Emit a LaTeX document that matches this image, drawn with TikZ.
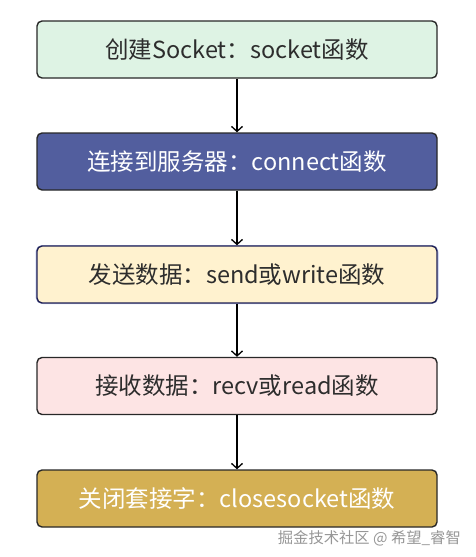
\documentclass[tikz,border=0pt]{standalone}
\usepackage{fontspec}
\setmainfont{Noto Sans CJK SC}
\usetikzlibrary{arrows.meta}
\definecolor{gfill}{RGB}{222,243,228}
\definecolor{bfill}{RGB}{82,94,158}
\definecolor{yfill}{RGB}{255,242,207}
\definecolor{pfill}{RGB}{253,228,228}
\definecolor{ofill}{RGB}{212,176,84}
\definecolor{edge}{RGB}{40,40,40}
\definecolor{dtext}{RGB}{45,45,45}
\definecolor{glow}{RGB}{184,196,238}
\definecolor{wm}{RGB}{150,150,150}
\tikzset{
  stepbox/.style={draw=edge, line width=1.4pt, rounded corners=5pt,
    minimum width=400pt, minimum height=57pt, inner sep=0pt,
    font=\fontsize{23.5}{27}\selectfont},
  conn/.style={draw=black, line width=1.3pt, -{Straight Barb[length=5pt,width=11pt,line width=1.3pt]}}
}
\begin{document}
\begin{tikzpicture}[x=1pt,y=1pt]
\useasboundingbox (0,0) rectangle (475,-557);
\node[stepbox, fill=gfill, text=dtext] (s1) at (237,-49.5) {创建Socket：socket函数};
\node[stepbox, fill=bfill, text=white] (s2) at (237,-161.5) {连接到服务器：connect函数};
\draw[glow, line width=3pt, rounded corners=6pt] (37,-246.5) rectangle (437,-302.5);
\node[stepbox, fill=yfill, text=dtext, draw=edge!80!blue] (s3) at (237,-274.5) {发送数据：send或write函数};
\node[stepbox, fill=pfill, text=dtext] (s4) at (237,-386) {接收数据：recv或read函数};
\node[stepbox, fill=ofill, text=white] (s5) at (237,-498.5) {关闭套接字：closesocket函数};
\draw[conn] (s1) -- (s2);
\draw[conn] (s2) -- (s3);
\draw[conn] (s3) -- (s4);
\draw[conn] (s4) -- (s5);
\node[anchor=east, text=wm, font=\fontsize{15.3}{17}\selectfont, inner sep=0pt] (wmk) at (461,-538) {掘金技术社区 @ 希望\_睿智};
\end{tikzpicture}
\end{document}
